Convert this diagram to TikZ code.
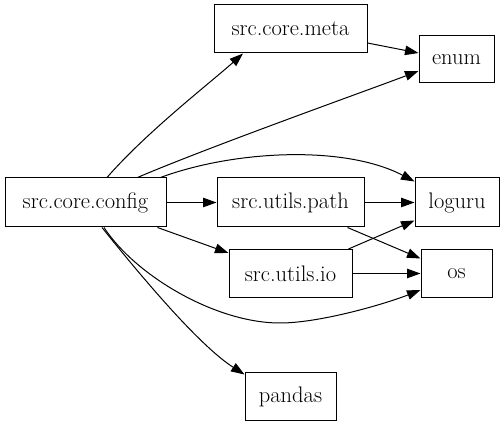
\documentclass[tikz,border=0pt]{standalone}
\usetikzlibrary{arrows.meta}
\begin{document}
\begin{tikzpicture}[x=1pt,y=-1pt,
  box/.style={draw=black,line width=1pt,rectangle,inner sep=0pt,font=\fontsize{22.5}{26}\selectfont},
  dep/.style={draw=black,line width=1pt,-{Triangle[length=13.5pt,width=9.5pt]}}]
\useasboundingbox (0,0) rectangle (504,427);
\node[box,minimum width=153pt,minimum height=48pt] (meta) at (290.5,29) {src.core.meta};
\node[box,minimum width=75pt,minimum height=47pt] (enum) at (456.5,59.5) {enum};
\node[box,minimum width=161pt,minimum height=49pt] (config) at (85.5,202.5) {src.core.config};
\node[box,minimum width=147pt,minimum height=49pt] (path) at (290.5,202.5) {src.utils.path};
\node[box,minimum width=84pt,minimum height=49pt] (loguru) at (457,202.5) {loguru};
\node[box,minimum width=123pt,minimum height=48pt] (io) at (290.5,273.5) {src.utils.io};
\node[box,minimum width=71pt,minimum height=48pt] (os) at (456.5,273.5) {os};
\node[box,minimum width=91pt,minimum height=48pt] (pandas) at (290.5,397) {pandas};

\draw[dep] ([xshift=21.5pt]config.north) .. controls (146.6,132) and (210,83) .. ([xshift=-47.5pt]meta.south);
\draw[dep] ([xshift=52pt]config.north) .. controls (206,148) and (374,88) .. ([yshift=-11.5pt]enum.west);
\draw[dep] ([yshift=-14pt]meta.east) -- ([yshift=6.5pt]enum.west);
\draw[dep] ([xshift=-6pt]config.north east) .. controls (235,150) and (345,145) .. ([yshift=-4pt]loguru.north west);
\draw[dep] (config.east) -- (path.west);
\draw[dep] (path.east) -- (loguru.west);
\draw[dep] ([xshift=-9pt]config.south east) -- ([yshift=-4pt]io.north west);
\draw[dep] ([xshift=-17pt]path.south east) -- ([yshift=15pt]os.west);
\draw[dep] ([xshift=-4pt]io.north east) -- ([yshift=7pt]loguru.south west);
\draw[dep] (io.east) -- (os.west);
\draw[dep] ([xshift=18.5pt]config.south) .. controls (135,275) and (215,323) .. (280,323)
  .. controls (320,323) and (385,304) .. ([yshift=8pt]os.south west);
\draw[dep] ([xshift=16.5pt]config.south) .. controls (152,290) and (203,348) .. ([yshift=-2pt]pandas.north west);
\end{tikzpicture}
\end{document}
